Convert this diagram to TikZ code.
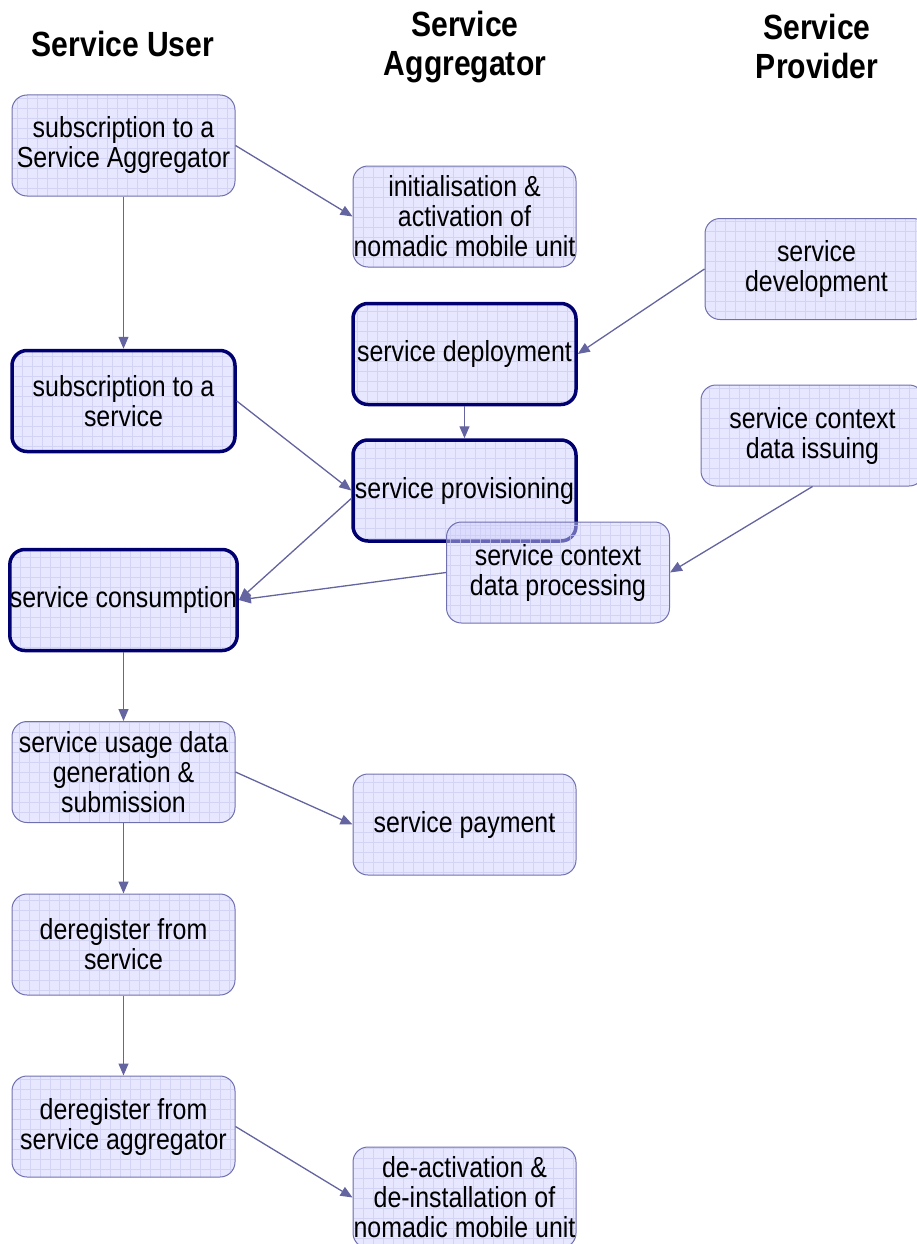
\documentclass[tikz,border=0pt]{standalone}
\usepackage{fontspec}
\setmainfont{Liberation Sans}[FakeStretch=0.86]
\newfontfamily\headfont{Liberation Sans}[FakeStretch=0.86]
\usetikzlibrary{arrows.meta}
\definecolor{boxfill}{HTML}{D0D0FF}
\definecolor{gridc}{HTML}{CACAF2}
\definecolor{thinb}{HTML}{7070B0}
\definecolor{thickb}{HTML}{000070}
\definecolor{arrc}{HTML}{6464A0}
\begin{document}
\begin{tikzpicture}[x=1pt,y=-1pt,
  box/.style={rectangle, rounded corners=15pt, draw=thinb, line width=1pt,
    fill=boxfill, fill opacity=0.5, text opacity=1,
    minimum width=223pt, minimum height=101pt, inner sep=0pt, align=center,
    font=\fontsize{29}{30}\selectfont,
    path picture={\draw[gridc, draw opacity=0.7, line width=0.5pt, step=10pt]
      (path picture bounding box.south west) grid (path picture bounding box.north east);}},
  mainbox/.style={box, draw=thickb, line width=3.5pt},
  head/.style={align=center, font=\headfont\bfseries\fontsize{35}{39}\selectfont},
  arr/.style={draw=arrc, line width=1.3pt, -{Triangle[length=12pt,width=10pt]}, fill=arrc}
]
\useasboundingbox (0,0) rectangle (917,1244);

\node[head] (hU) at (123,44) {Service User};
\node[head] (hA) at (465,47) {Service\\Aggregator};
\node[head] (hP) at (817,46) {Service\\Provider};

\node[box] (subagg) at (123.5,145.5) {subscription to a\\Service Aggregator};
\node[box] (init) at (464.5,216.5) {initialisation \&\\activation of\\nomadic mobile unit};
\node[box] (dev) at (816.5,269) {service\\development};
\node[mainbox] (deploy) at (464.5,354) {service deployment};
\node[mainbox] (subsrv) at (123.5,401) {subscription to a\\service};
\node[box] (issue) at (812.5,435.5) {service context\\data issuing};
\node[mainbox] (prov) at (464.5,490.5) {service provisioning};
\node[box] (proc) at (558,572.5) {service context\\data processing};
\node[mainbox] (cons) at (123.5,600) {service consumption};
\node[box] (usage) at (123.5,772) {service usage data\\generation \&\\submission};
\node[box] (pay) at (464.5,824.5) {service payment};
\node[box] (dereg) at (123.5,944.5) {deregister from\\service};
\node[box] (deragg) at (123.5,1126.5) {deregister from\\service aggregator};
\node[box] (deact) at (464.5,1197.5) {de-activation \&\\de-installation of\\nomadic mobile unit};

\draw[arr] (subagg.south) -- (subsrv.north);
\draw[arr] (subagg.east) -- (init.west);
\draw[arr] (dev.west) -- (deploy.east);
\draw[arr] (deploy.south) -- (prov.north);
\draw[arr] (subsrv.east) -- (prov.west);
\draw[arr] ([yshift=-8pt]prov.west) -- (cons.east);
\draw[arr] (proc.west) -- (cons.east);
\draw[arr] (issue.south) -- (proc.east);
\draw[arr] (cons.south) -- (usage.north);
\draw[arr] (usage.east) -- (pay.west);
\draw[arr] (usage.south) -- (dereg.north);
\draw[arr] (dereg.south) -- (deragg.north);
\draw[arr] (deragg.east) -- (deact.west);
\end{tikzpicture}
\end{document}
